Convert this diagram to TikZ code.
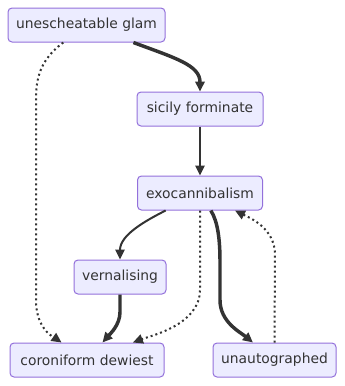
\documentclass[tikz,border=0pt]{standalone}
\usepackage{fontspec}
\setmainfont{DejaVu Sans}
\usetikzlibrary{arrows.meta}

\definecolor{boxfill}{HTML}{ECECFF}
\definecolor{boxline}{HTML}{9370DB}
\definecolor{linkcol}{HTML}{333333}

\tikzset{every picture/.style={line width=0.75pt}}
\tikzset{
  box/.style={draw=boxline, fill=boxfill, rounded corners=3pt, line width=0.75pt,
    minimum height=25.5pt, inner sep=0pt, text=linkcol,
    font=\fontsize{10.4pt}{12pt}\selectfont},
  link/.style={draw=linkcol, line width=1.5pt,
    -{Triangle[length=7.5pt,width=7pt]}},
  boldlink/.style={link, line width=2.6pt},
  dotlink/.style={link, dash pattern=on 1.5pt off 2.25pt},
}

\begin{document}
\begin{tikzpicture}[x=0.75pt,y=0.75pt,yscale=-1,xscale=1]
\useasboundingbox (0,0) rectangle (344,386);

% Boxes
\node[box, minimum width=117.75pt] (glam) at (86.5,25) {unescheatable glam};
\node[box, minimum width=94.5pt] (sicily) at (200,109) {sicily forminate};
\node[box, minimum width=93.75pt] (exo) at (200,193) {exocannibalism};
\node[box, minimum width=69pt] (vern) at (120,277) {vernalising};
\node[box, minimum width=115.5pt] (coro) at (87,360) {coroniform dewiest};
\node[box, minimum width=92.25pt] (unauto) at (274.5,360) {unautographed};

% Links
\draw[boldlink] (glam) .. controls (175,58) and (200,65) .. (sicily);
\draw[dotlink] (glam) .. controls (40,60) and (36,78) .. (36,100) -- (36,300)
  .. controls (36,330) and (55,338) .. (coro);
\draw[link] (sicily) -- (exo);
\draw[link] (exo) .. controls (145,221) and (120,235) .. (vern);
\draw[dotlink] (exo.south) -- (200,290) .. controls (200,325) and (150,336) .. (coro);
\draw[boldlink] (exo) .. controls (218,222) and (220,240) .. (220,262) -- (220,300)
  .. controls (220,322) and (240,332) .. (unauto);
\draw[dotlink] (unauto.north) -- (275,255) .. controls (275,228) and (250,218) .. (exo);
\draw[boldlink] (vern.south) -- (120,312) .. controls (120,325) and (110,334) .. (coro);

\end{tikzpicture}
\end{document}
